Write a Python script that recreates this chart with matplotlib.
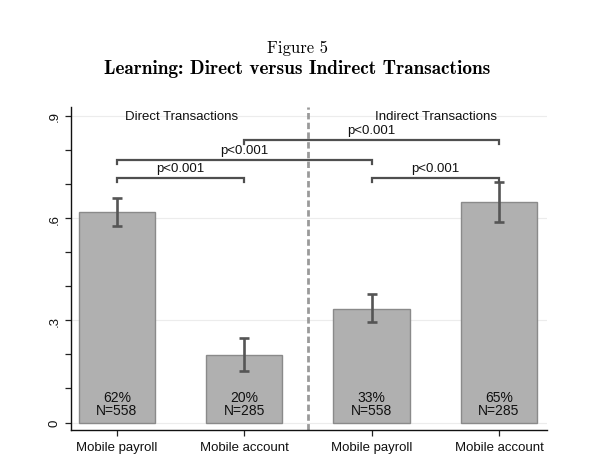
import matplotlib
matplotlib.use("Agg")
import matplotlib.pyplot as plt
from matplotlib.ticker import FixedLocator

# values
categories = ["Mobile payroll", "Mobile account", "Mobile payroll", "Mobile account"]
means = [0.618, 0.198, 0.333, 0.647]
ci_low = [0.577, 0.151, 0.295, 0.589]
ci_high = [0.659, 0.248, 0.377, 0.706]
pct_labels = ["62%", "20%", "33%", "65%"]
n_labels = ["N=558", "N=285", "N=558", "N=285"]
group_labels = ["Direct Transactions", "Indirect Transactions"]
# brackets: (bar i, bar j, height, label)
brackets = [(0, 1, 0.718, "p<0.001"),
            (0, 2, 0.771, "p<0.001"),
            (1, 3, 0.829, "p<0.001"),
            (2, 3, 0.718, "p<0.001")]

plt.rcParams["font.family"] = ["Liberation Sans", "DejaVu Sans"]
TXT = "#111111"

fig = plt.figure(figsize=(5.95, 4.56), dpi=100)
ax = fig.add_axes([0.1193, 0.0548, 0.8, 0.7084])

x = [1, 2, 3, 4]
ax.bar(x, means, width=0.6, color="#b0b0b0", edgecolor="#8a8a8a", lw=1.0, zorder=2)
yerr = [[m - lo for m, lo in zip(means, ci_low)],
        [hi - m for m, hi in zip(means, ci_high)]]
ax.errorbar(x, means, yerr=yerr, fmt="none", ecolor="#555555",
            elinewidth=1.9, capsize=3.6, capthick=1.9, zorder=3)

# one two-line label per bar
for xi, p, n in zip(x, pct_labels, n_labels):
    ax.text(xi, 0.056, p + "\n" + n, ha="center", va="center", fontsize=10,
            linespacing=0.92, color=TXT, zorder=4)

# divider between the two groups
ax.axvline(2.5, color="#9a9a9a", lw=2.0, ls=(0, (2.3, 1.2)), zorder=1)

ax.text(1.504, 0.9, group_labels[0], ha="center", va="center", fontsize=9.5, color=TXT)
ax.text(3.505, 0.9, group_labels[1], ha="center", va="center", fontsize=9.5, color=TXT)

tip = 0.012
for i, j, h, lab in brackets:
    xa, xb = x[i], x[j]
    ax.plot([xa, xa, xb, xb], [h - tip, h, h, h - tip], color="#4f4f4f",
            lw=1.6, solid_joinstyle="miter", zorder=3)
    ax.text((xa + xb) / 2, h + 0.028, lab, ha="center", va="center",
            fontsize=9.5, color=TXT)

ax.set_xlim(0.639, 4.377)
ax.set_ylim(-0.022, 0.926)
ax.set_xticks(x)
ax.set_xticklabels(categories, fontsize=9.5)
ax.yaxis.set_major_locator(FixedLocator([0, 0.3, 0.6, 0.9]))
ax.set_yticklabels(["0", ".3", ".6", ".9"], fontsize=9.5, rotation=90, va="center")
ax.yaxis.set_minor_locator(FixedLocator([0.1, 0.2, 0.4, 0.5, 0.7, 0.8]))
ax.tick_params(axis="both", which="both", direction="out", length=4.5,
               width=0.9, color="#222222", labelcolor=TXT)
ax.tick_params(axis="y", pad=3)
ax.grid(axis="y", which="major", color="#ececec", lw=0.8, zorder=0)
ax.set_axisbelow(True)
for s in ["top", "right"]:
    ax.spines[s].set_visible(False)
for s in ["left", "bottom"]:
    ax.spines[s].set_linewidth(1.0)
    ax.spines[s].set_color("#111111")

fig.text(0.5, 1 - 48 / 456, "Figure 5", ha="center", va="center",
         fontsize=12, family="cmr10")
fig.text(0.5, 1 - 69 / 456, "Learning: Direct versus Indirect Transactions",
         ha="center", va="center", fontsize=13.9, family="cmb10")

fig.savefig("out.png", dpi=100)
